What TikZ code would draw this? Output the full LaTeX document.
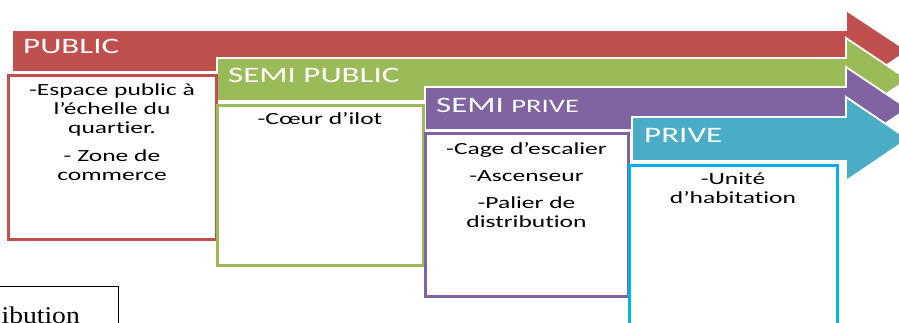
\documentclass[tikz,border=0pt]{standalone}
\usepackage{fontspec}
\usepackage{tikz}
\usetikzlibrary{positioning}
\setmainfont{Carlito}[FakeStretch=1.5, Ligatures=NoCommon]
\newfontfamily\serfont{Liberation Serif}[FakeStretch=1.15]
\definecolor{zred}{HTML}{C0504D}
\definecolor{zgreen}{HTML}{9BBB59}
\definecolor{zpurple}{HTML}{8064A2}
\definecolor{zcyan}{HTML}{4BACC6}
\definecolor{zblue}{HTML}{00B0F0}
\tikzset{
  band/.style={fill=#1, draw=white, line width=1.8pt, line join=miter},
  zonebox/.style={draw=#1, line width=3pt, fill=white, anchor=north west,
    inner sep=0pt, outer sep=0pt},
  hdr/.style={font=\fontsize{22}{26}\selectfont, text=white, inner sep=0pt, anchor=base west},
  body/.style={font=\fontsize{17}{19}\selectfont, align=center, inner sep=0pt, text=black}
}

\begin{document}
\begin{tikzpicture}[x=1pt, y=-1pt]
    \useasboundingbox (0,0) rectangle (899,322);
    \clip (0,0) rectangle (899,322);
    % Arrows (public -> prive)
    % Public
    \filldraw[band=zred] (12,30) -- (846,30) -- (846,10) -- (908,51) -- (846,92) -- (846,72) -- (12,72) -- cycle;
    % Semi public
    \filldraw[band=zgreen] (217,58) -- (846,58) -- (846,38) -- (908,79.5) -- (846,121) -- (846,101) -- (217,101) -- cycle;
    % Semi prive
    \filldraw[band=zpurple] (425,87) -- (846,87) -- (846,67) -- (908,108.5) -- (846,150) -- (846,130) -- (425,130) -- cycle;
    % Prive
    \filldraw[band=zcyan] (632,117) -- (846,117) -- (846,97) -- (908,139) -- (846,181) -- (846,161) -- (632,161) -- cycle;
    % Titles
    \node[hdr] (pubtitle) at (23,53) {PUBLIC};
    \node[hdr] (semipubtitle) at (228,82) {SEMI PUBLIC};
    \node[hdr] (semiprivtitle) at (436,112) {SEMI {\fontsize{19}{22}\selectfont PRIVE}};
    \node[hdr] (privtitle) at (644,142) {PRIVE};
    % Boxes
    \node[zonebox=zred, minimum width=208pt, minimum height=164pt] (pubbox) at (8,75) {};
    \node[zonebox=zgreen, minimum width=206pt, minimum height=160pt] (semipubbox) at (217,105) {};
    \node[zonebox=zpurple, minimum width=203pt, minimum height=163pt] (semiprivbox) at (425,133) {};
    \node[zonebox=zblue, minimum width=208pt, minimum height=200pt] (privbox) at (629,165) {};
    % Box texts
    \node[body, below=8pt of pubbox.north] (pubtxt) {-Espace public à\\ l’échelle du\\ quartier.\\[9pt] - Zone de\\ commerce};
    \node[body, below=7pt of semipubbox.north] (semipubtxt) {-Cœur d’ilot};
    \node[body, below=9pt of semiprivbox.north] (semiprivtxt) {-Cage d’escalier\\[8pt] -Ascenseur\\[8pt] -Palier de\\ distribution};
    \node[body, below=8pt of privbox.north] (privtxt) {-Unité\\ d’habitation};
    % Cut-off caption
    \draw[black, line width=0.8pt] (-5,286) rectangle (118,340);
    \node[anchor=base east, font=\serfont\fontsize{24}{28}\selectfont, inner sep=0pt] (fragtxt) at (80,323) {ibution};
\end{tikzpicture}
\end{document}
